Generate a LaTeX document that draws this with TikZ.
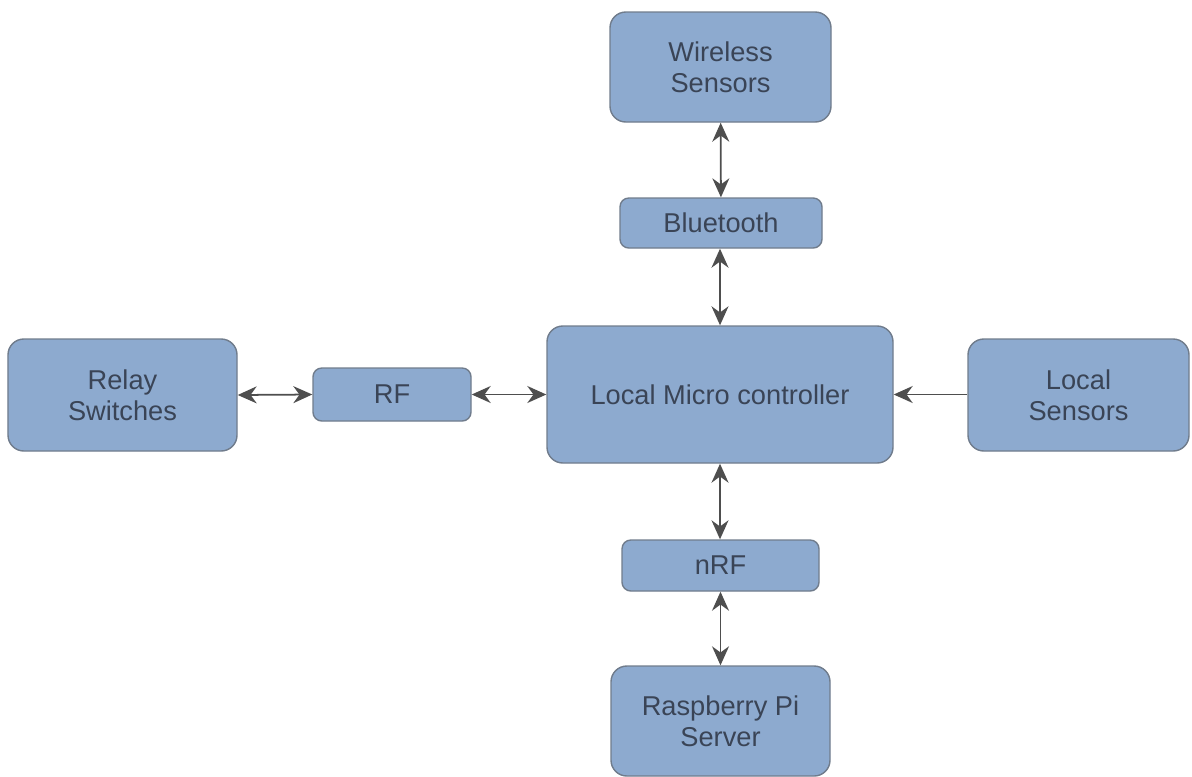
\documentclass[tikz,border=0pt]{standalone}
\usepackage{fontspec}
\setmainfont{Liberation Sans}
\usepackage{xcolor}
\definecolor{boxblue}{RGB}{141,170,207}
\definecolor{boxedge}{RGB}{112,124,140}
\definecolor{boxtext}{RGB}{58,68,86}
\definecolor{arrgray}{RGB}{78,78,78}
\usetikzlibrary{arrows.meta,positioning}

\begin{document}
\begin{tikzpicture}[
  box/.style={draw=boxedge,fill=boxblue,rounded corners=9pt,line width=0.8pt,
    font=\fontsize{15.5}{17.5}\selectfont,text=boxtext,align=center,inner sep=0pt},
  smallbox/.style={box,rounded corners=5pt},
  arr/.style={{Stealth[length=3.8mm,width=3.4mm]}-{Stealth[length=3.8mm,width=3.4mm]},line width=1pt,arrgray},
  oneway/.style={-{Stealth[length=3.8mm,width=3.4mm]},line width=1pt,arrgray}
]
  \useasboundingbox (0,0) rectangle (23.84,-15.52);
  % Centre
  \node[box,minimum width=6.92cm,minimum height=2.74cm] (mcu) at (14.4,-7.89) {Local Micro controller};
  % Top branch
  \node[smallbox,minimum width=4.04cm,minimum height=1cm] (bt) at (14.42,-4.46) {Bluetooth};
  \node[box,minimum width=4.42cm,minimum height=2.2cm] (wsens) at (14.41,-1.34) {Wireless\\Sensors};
  % Left branch
  \node[smallbox,minimum width=3.16cm,minimum height=1.06cm] (rf) at (7.84,-7.89) {RF};
  \node[box,minimum width=4.58cm,minimum height=2.24cm] (relay) at (2.45,-7.9) {Relay\\Switches};
  % Right branch
  \node[box,minimum width=4.42cm,minimum height=2.24cm] (lsens) at (21.57,-7.9) {Local\\Sensors};
  % Bottom branch
  \node[smallbox,minimum width=3.94cm,minimum height=1.02cm] (nrf) at (14.41,-11.31) {nRF};
  \node[box,minimum width=4.38cm,minimum height=2.2cm] (rpi) at (14.41,-14.42) {Raspberry Pi\\Server};
  % Arrows
  \draw[arr] (wsens) -- (bt);
  \draw[arr] (bt.south -| mcu.north) -- (mcu.north);
  \draw[arr] (relay.east) -- (rf.west);
  \draw[arr] (rf.east) -- (mcu.west |- rf.east);
  \draw[oneway] (lsens.west |- mcu.east) -- (mcu.east);
  \draw[arr] (mcu.south) -- (nrf.north -| mcu.south);
  \draw[arr] (nrf) -- (rpi);
\end{tikzpicture}
\end{document}
